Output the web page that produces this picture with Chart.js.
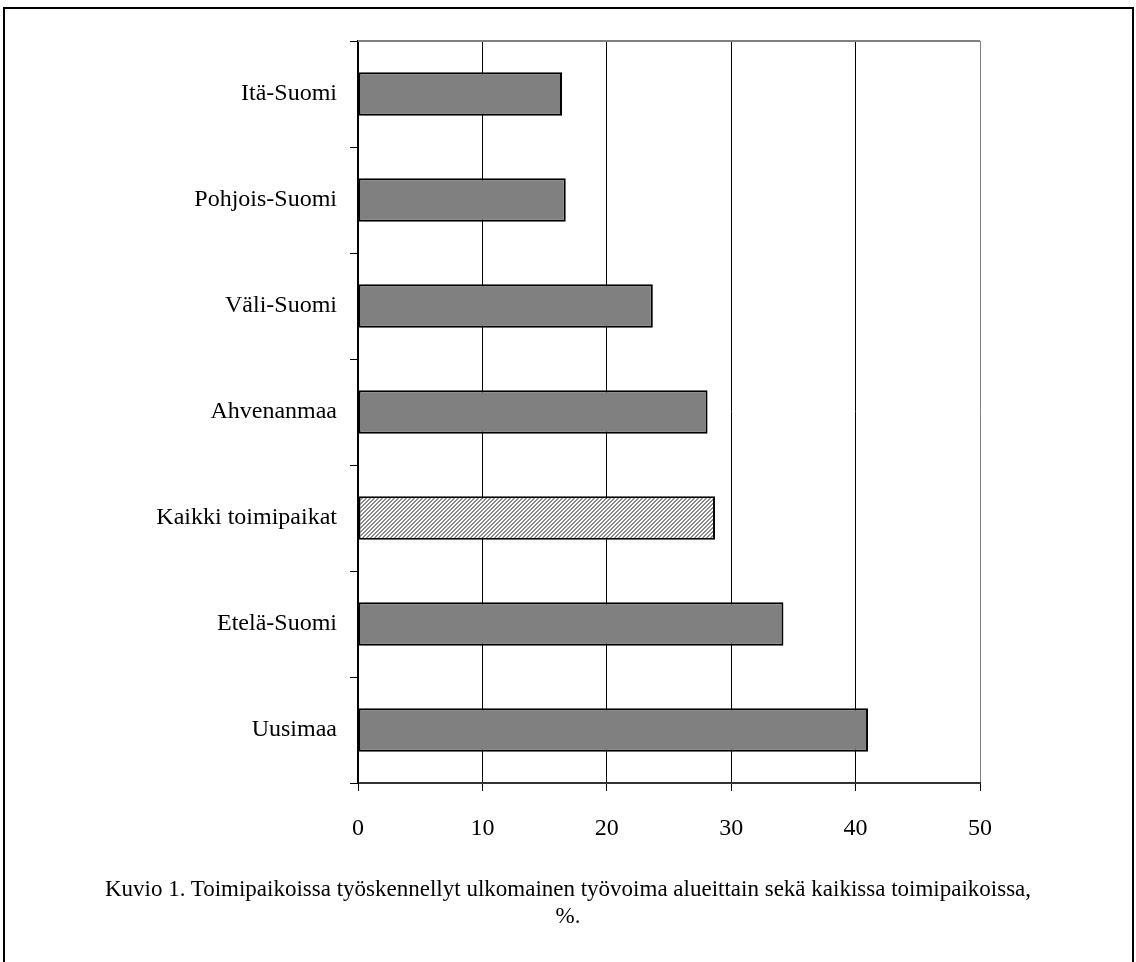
<!DOCTYPE html>
<html>
<head>
<meta charset="utf-8">
<script src="https://cdn.jsdelivr.net/npm/chart.js@4"></script>
<style>
  html,body{margin:0;padding:0;background:#fff;width:1136px;height:962px;overflow:hidden;}
  #wrap{position:relative;width:1136px;height:962px;}
  #frame{position:absolute;left:3px;top:7px;width:1131px;height:1000px;border:2px solid #000;border-bottom:none;box-sizing:border-box;}
  canvas{position:absolute;left:0;top:0;}
  .cap{position:absolute;left:0;width:1136px;text-align:center;font-family:"Liberation Serif","Times New Roman",serif;font-size:23px;color:#000;}
</style>
</head>
<body>
<div id="wrap">
  <div id="frame"></div>
  <canvas id="c" width="1136" height="962"></canvas>
  <div class="cap" style="top:876px;">Kuvio 1. Toimipaikoissa työskennellyt ulkomainen työvoima alueittain sekä kaikissa toimipaikoissa,</div>
  <div class="cap" style="top:903px;">%.</div>
</div>
<script>
const categories = ["Itä-Suomi","Pohjois-Suomi","Väli-Suomi","Ahvenanmaa","Kaikki toimipaikat","Etelä-Suomi","Uusimaa"];
const values = [16.4, 16.7, 23.7, 28.1, 28.7, 34.2, 41.0];
const xTicks = [0, 10, 20, 30, 40, 50];
const highlightCategory = "Kaikki toimipaikat";

function makeHatch(){
  const p = document.createElement('canvas');
  p.width = 4; p.height = 4;
  const g = p.getContext('2d');
  g.fillStyle = '#ffffff';
  g.fillRect(0,0,4,4);
  g.fillStyle = '#8a8a8a';
  for (let y = 0; y < 4; y++) {
    const x0 = (3 - y + 4) % 4;
    g.fillRect(x0, y, 1, 1);
    g.fillRect((x0 + 1) % 4, y, 1, 1);
  }
  return g.createPattern(p,'repeat');
}
const hatch = makeHatch();

const topLine = {
  id:'topLine',
  afterDraw(chart){
    const {ctx, chartArea:a} = chart;
    ctx.save();
    ctx.strokeStyle = '#808080';
    ctx.lineWidth = 2;
    ctx.beginPath();
    ctx.moveTo(a.left, a.top);
    ctx.lineTo(a.right, a.top);
    ctx.stroke();
    ctx.restore();
  }
};

new Chart(document.getElementById('c'), {
  type:'bar',
  data:{
    labels: categories,
    datasets:[{
      data: values,
      backgroundColor: categories.map(c => c === highlightCategory ? hatch : '#808080'),
      borderColor:'#000',
      borderWidth:2,
      borderSkipped:false,
      categoryPercentage:1,
      barPercentage:0.41
    }]
  },
  options:{
    indexAxis:'y',
    responsive:false,
    devicePixelRatio:1,
    animation:false,
    layout:{padding:{top:41,right:156,left:0,bottom:0}},
    plugins:{legend:{display:false},tooltip:{enabled:false},title:{display:false}},
    scales:{
      x:{
        min:0,max:50,
        afterBuildTicks(s){ s.ticks = xTicks.map(v=>({value:v})); },
        afterFit(s){ s.height = 179; },
        grid:{
          color:(ctx)=> (ctx.tick && ctx.tick.value===50) ? '#808080' : '#000',
          lineWidth:1,
          tickLength:8,
          tickColor:'#000'
        },
        border:{color:'#333',width:2},
        ticks:{
          color:'#000',
          padding:23,
          font:{family:'"Liberation Serif","Times New Roman",serif',size:24}
        }
      },
      y:{
        afterFit(s){ s.width = 358; },
        grid:{
          drawOnChartArea:false,
          tickLength:8,
          color:'#000',
          offset:true
        },
        border:{color:'#000',width:2},
        ticks:{
          color:'#000',
          padding:13,
          font:{family:'"Liberation Serif","Times New Roman",serif',size:24}
        }
      }
    }
  },
  plugins:[topLine]
});
</script>
</body>
</html>
